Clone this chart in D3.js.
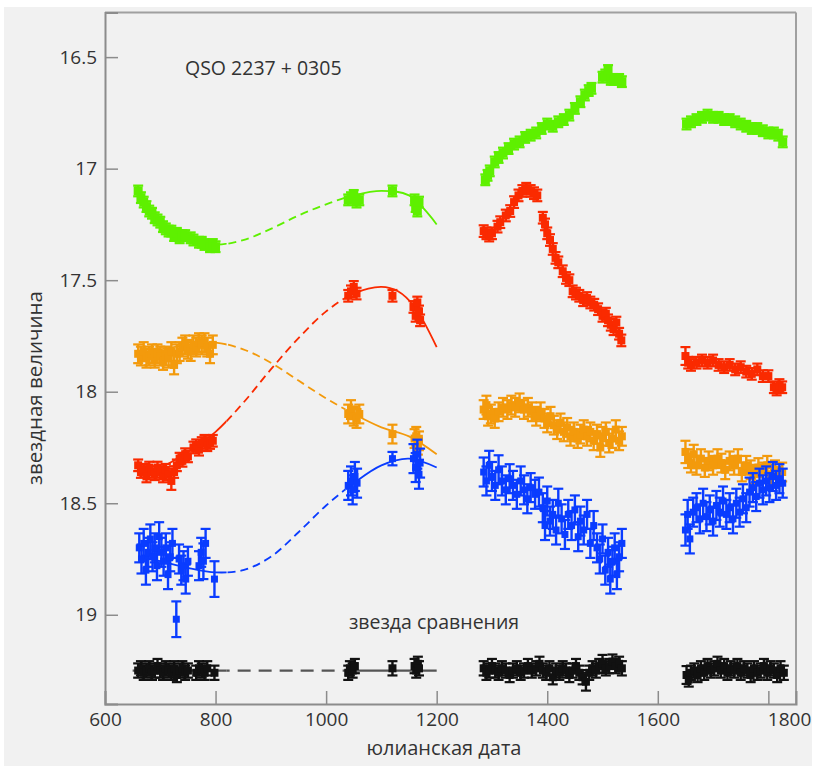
<!DOCTYPE html>
<html lang="ru">
<head>
<meta charset="utf-8">
<script src="https://d3js.org/d3.v7.min.js"></script>
<style>
  body { margin: 0; background: #ffffff; }
  text { font-family: "Open Sans", "Noto Sans", sans-serif; fill: #333; }
</style>
</head>
<body>
<div id="chart"></div>
<script>
// observations: [julian day, magnitude, error (optional)]
var greenPts = [
  [660,17.10],[665,17.13],[670,17.15],[675,17.17],[680,17.19],[685,17.20],[690,17.22],[695,17.23],
  [700,17.24],[705,17.26],[710,17.27],[715,17.28],[720,17.28],[725,17.30],[730,17.29],[735,17.31],
  [740,17.30],[745,17.30],[755,17.31],[760,17.32],[770,17.33],[775,17.33],[780,17.34],[790,17.35],[795,17.34],[800,17.35],
  [1040,17.14],[1045,17.13],[1050,17.12],[1055,17.15],[1060,17.14],[1120,17.10],
  [1160,17.14],[1162,17.17],[1165,17.19],[1168,17.15],
  [1288,17.05],[1292,17.03],[1296,17.01],[1305,16.97],[1312,16.95],[1320,16.93],[1330,16.91],[1340,16.89],
  [1350,16.88],[1360,16.86],[1370,16.85],[1380,16.84],[1390,16.82],[1400,16.80],[1410,16.81],[1420,16.79],
  [1430,16.78],[1440,16.76],[1450,16.73],[1460,16.70],[1468,16.67],[1475,16.65],[1480,16.64],
  [1500,16.59],[1505,16.58],[1510,16.56],[1515,16.60],[1520,16.60],[1530,16.60],[1535,16.61],
  [1652,16.80],[1660,16.79],[1670,16.78],[1680,16.77],[1690,16.76],[1700,16.77],[1710,16.77],[1720,16.78],
  [1730,16.78],[1740,16.79],[1750,16.80],[1760,16.81],[1770,16.82],[1780,16.82],[1790,16.83],[1800,16.84],
  [1810,16.84],[1818,16.85],[1826,16.88]
];
var redPts = [
  [660,18.33],[665,18.36],[670,18.35],[675,18.38],[680,18.34],[685,18.36],[690,18.37],[695,18.34],
  [700,18.36],[705,18.38],[710,18.35],[715,18.37],[720,18.40,0.04],[725,18.36],[730,18.33],[735,18.30],
  [740,18.31],[745,18.28],[750,18.29],[760,18.25],[765,18.24],[770,18.26],[775,18.23],[780,18.22],
  [785,18.24],[790,18.23],[795,18.22],
  [1040,17.57],[1045,17.55],[1050,17.53],[1055,17.56],[1120,17.57],
  [1158,17.62],[1162,17.66],[1165,17.60],[1168,17.64],[1170,17.68],
  [1285,17.28],[1290,17.29],[1295,17.30],[1300,17.29],[1310,17.26],[1315,17.24],[1325,17.21],[1333,17.19],
  [1340,17.15],[1348,17.12],[1355,17.10],[1362,17.09],[1370,17.10],[1376,17.11],[1382,17.12],
  [1392,17.22],[1396,17.25],[1400,17.29],[1405,17.32],[1410,17.36],[1415,17.40],[1420,17.42],[1428,17.46],
  [1434,17.49],[1440,17.50],[1446,17.55],[1452,17.56],[1458,17.57],[1465,17.59],[1472,17.58],[1478,17.60],
  [1485,17.61],[1492,17.63],[1500,17.66],[1506,17.65],[1510,17.68],[1515,17.70],[1520,17.72],[1525,17.69],
  [1530,17.74],[1534,17.77],
  [1650,17.84,0.04],[1655,17.87],[1660,17.88],[1670,17.87],[1680,17.86],[1690,17.87],[1700,17.86],[1710,17.88],
  [1720,17.89],[1730,17.88],[1740,17.90],[1750,17.89],[1760,17.91],[1770,17.92],[1780,17.90],[1790,17.93],
  [1800,17.93],[1810,17.98],[1815,17.99],[1820,17.97],[1825,17.98]
];
var orangePts = [
  [660,17.83],[665,17.84],[670,17.82],[675,17.85],[680,17.84],[685,17.83],[690,17.85],[695,17.83],
  [700,17.84],[705,17.86],[710,17.84],[715,17.85],[720,17.82],[725,17.88],[730,17.83],[735,17.82],
  [740,17.80],[745,17.79],[750,17.81],[755,17.82],[760,17.79],[765,17.80],[770,17.78],[775,17.79],
  [780,17.78],[785,17.80],[790,17.83],[795,17.79],
  [1040,18.10],[1045,18.08],[1050,18.11],[1055,18.12],[1060,18.10],[1120,18.19],
  [1160,18.21],[1163,18.20],[1166,18.24],[1168,18.22],
  [1285,18.08],[1290,18.06],[1293,18.11],[1298,18.10],[1305,18.12],[1312,18.09],[1320,18.07],[1328,18.08],
  [1335,18.06],[1342,18.07],[1350,18.05],[1358,18.08],[1365,18.07],[1372,18.09],[1380,18.11],[1388,18.09],
  [1395,18.12],[1400,18.14],[1406,18.11],[1412,18.15],[1418,18.17],[1424,18.14],[1430,18.18],[1436,18.16],
  [1442,18.20],[1448,18.18],[1455,18.21],[1460,18.19],[1466,18.17],[1472,18.20],[1478,18.18],[1484,18.22],
  [1490,18.19],[1496,18.25],[1500,18.20],[1506,18.18],[1512,18.23],[1518,18.21],[1524,18.17],[1530,18.22],
  [1535,18.20],
  [1650,18.27,0.05],[1655,18.30],[1660,18.32],[1665,18.28],[1670,18.33],[1678,18.30],[1685,18.34],[1692,18.31],
  [1700,18.33],[1708,18.30],[1715,18.32],[1722,18.35],[1730,18.31],[1738,18.33],[1745,18.30],[1752,18.36],
  [1760,18.33],[1768,18.35],[1775,18.37],[1782,18.34],[1790,18.36],[1798,18.33],[1805,18.37],[1812,18.35],
  [1818,18.38],[1825,18.36]
];
var bluePts = [
  [662,18.70],[666,18.75],[670,18.68],[674,18.80],[678,18.72],[682,18.66],[686,18.74],[690,18.70],
  [694,18.78],[698,18.65],[702,18.72],[706,18.76],[710,18.70],[714,18.82],[718,18.74],[722,18.68],
  [729,19.02,0.08],[734,18.75],[738,18.80],[742,18.78],[746,18.84],[750,18.76],
  [770,18.78],[774,18.72],[778,18.76,0.08],[782,18.68],[798,18.84,0.08],
  [1040,18.42],[1045,18.40],[1048,18.44],[1052,18.38],[1056,18.41],[1120,18.30,0.03],
  [1158,18.30],[1162,18.34],[1165,18.28],[1168,18.37],[1170,18.32],
  [1285,18.36],[1290,18.40],[1295,18.33],[1300,18.38],[1306,18.42],[1312,18.35],[1318,18.40],[1325,18.44],
  [1332,18.39],[1338,18.42],[1345,18.46],[1352,18.40],[1358,18.44],[1364,18.48],[1370,18.43],[1378,18.46],
  [1385,18.45],[1392,18.52],[1396,18.60],[1400,18.49],[1405,18.58],[1410,18.55],[1416,18.62],[1420,18.50],
  [1426,18.57],[1432,18.64],[1438,18.55],[1444,18.60],[1450,18.53],[1456,18.65],[1460,18.58],[1466,18.62],
  [1472,18.55],[1478,18.68],[1484,18.60],[1490,18.70],[1495,18.75],[1500,18.66],[1505,18.80],[1510,18.72],
  [1514,18.84],[1518,18.76],[1522,18.70],[1526,18.82],[1530,18.74],[1535,18.68],
  [1650,18.62,0.07],[1654,18.55],[1658,18.66],[1664,18.54],[1670,18.52],[1676,18.57],[1682,18.50],[1688,18.56],
  [1694,18.53],[1700,18.58],[1706,18.51],[1712,18.54],[1718,18.49],[1724,18.55],[1730,18.52],[1736,18.57],
  [1742,18.50],[1748,18.54],[1754,18.48],[1760,18.52],[1766,18.45],[1772,18.43],[1778,18.47],[1784,18.41],
  [1790,18.44],[1796,18.40],[1802,18.43],[1808,18.38],[1814,18.42],[1820,18.39],[1826,18.41]
];
var blackPts = [
  [660,19.25],[665,19.24],[670,19.26],[675,19.25],[680,19.24],[685,19.26],[690,19.25],[695,19.23],
  [700,19.25],[705,19.26],[710,19.24],[715,19.25],[720,19.26],[725,19.24],[730,19.27],[735,19.25],
  [740,19.24],[745,19.26],[750,19.25],[765,19.26],[770,19.24],[775,19.25],[780,19.26],[785,19.24],[798,19.26],
  [1040,19.26],[1043,19.24],[1048,19.25],[1052,19.23],[1120,19.24],
  [1160,19.23],[1163,19.25],[1166,19.22],[1168,19.24],
  [1285,19.24],[1290,19.26],[1295,19.25],[1300,19.23],[1306,19.25],[1312,19.26],[1318,19.24],[1325,19.25],
  [1332,19.27],[1338,19.25],[1345,19.24],[1352,19.26],[1358,19.25],[1365,19.23],[1372,19.25],[1380,19.24],
  [1386,19.22],[1392,19.25],[1398,19.26],[1404,19.24],[1410,19.28],[1416,19.25],[1422,19.26],[1428,19.24],
  [1434,19.25],[1440,19.27],[1446,19.25],[1452,19.23],[1458,19.26],[1464,19.28],[1470,19.30,0.04],[1476,19.26],
  [1482,19.24],[1488,19.25],[1494,19.23],[1500,19.22,0.04],[1506,19.24],[1512,19.23],[1518,19.21],[1524,19.23],
  [1530,19.22],[1535,19.24],
  [1652,19.27,0.04],[1656,19.29],[1660,19.26],[1666,19.25],[1672,19.27],[1678,19.24],[1684,19.26],[1690,19.23],
  [1696,19.25],[1702,19.24],[1708,19.22],[1714,19.25],[1720,19.23],[1726,19.26],[1732,19.24],[1738,19.25],
  [1744,19.23],[1750,19.26],[1756,19.24],[1762,19.25],[1768,19.27],[1774,19.24],[1780,19.26],[1786,19.25],
  [1792,19.23],[1798,19.26],[1804,19.24],[1810,19.25],[1816,19.27],[1822,19.24],[1828,19.26]
];

// fitted curves
var greenFit  = [[655,17.08],[700,17.24],[750,17.31],[800,17.34],[850,17.32],[900,17.27],[950,17.21],[1000,17.16],[1050,17.12],[1100,17.10],[1150,17.12],[1200,17.25]];
var redFit    = [[660,18.37],[700,18.34],[750,18.27],[800,18.18],[850,18.05],[900,17.90],[950,17.76],[1000,17.64],[1050,17.56],[1100,17.53],[1130,17.55],[1160,17.62],[1200,17.80]];
var orangeFit = [[660,17.83],[700,17.81],[750,17.79],[800,17.78],[850,17.81],[900,17.87],[950,17.95],[1000,18.03],[1050,18.10],[1100,18.16],[1150,18.20],[1200,18.28]];
var blueFit   = [[660,18.74],[700,18.76],[750,18.79],[800,18.81],[850,18.80],[900,18.74],[950,18.63],[1000,18.51],[1050,18.41],[1100,18.33],[1150,18.30],[1200,18.34]];
var blackFit  = [[650,19.25],[1200,19.25]];

var xTicks = [600, 800, 1000, 1200, 1400, 1600, 1800];
var yTicks = [16.5, 17, 17.5, 18, 18.5, 19];
var yTickLabels = ["16.5", "17", "17.5", "18", "18.5", "19"];

var width = 816;
var height = 769;

var svg = d3.select("#chart").append("svg")
    .attr("width", width)
    .attr("height", height);

var xScale = d3.scaleLinear().domain([600, 1850]).range([105, 796]);
var yScale = d3.scaleLinear().domain([16.3, 19.4]).range([12.5, 704]);

// background
svg.append("rect")
    .attr("x", 4).attr("y", 7)
    .attr("width", 808).attr("height", 759)
    .attr("fill", "#f1f1f1");

// clip regions: solid near the data, dashed in the gap
var defs = svg.append("defs");
var solidClip = defs.append("clipPath").attr("id", "solid-clip");
solidClip.append("rect")
    .attr("x", xScale(640)).attr("y", 0)
    .attr("width", xScale(820) - xScale(640)).attr("height", height);
solidClip.append("rect")
    .attr("x", xScale(1035)).attr("y", 0)
    .attr("width", xScale(1210) - xScale(1035)).attr("height", height);
defs.append("clipPath").attr("id", "dash-clip")
    .append("rect")
    .attr("x", xScale(820)).attr("y", 0)
    .attr("width", xScale(1035) - xScale(820)).attr("height", height);

var fitLine = d3.line()
    .x(function(d) { return xScale(d[0]); })
    .y(function(d) { return yScale(d[1]); })
    .curve(d3.curveCatmullRom);

function drawFit(data, color, w, dash) {
    svg.append("path")
        .datum(data)
        .attr("d", fitLine)
        .attr("fill", "none")
        .attr("stroke", color)
        .attr("stroke-width", w)
        .attr("clip-path", "url(#solid-clip)");
    svg.append("path")
        .datum(data)
        .attr("d", fitLine)
        .attr("fill", "none")
        .attr("stroke", color)
        .attr("stroke-width", w)
        .attr("stroke-dasharray", dash)
        .attr("clip-path", "url(#dash-clip)");
}

function drawPoints(data, color, err, size) {
    var g = svg.append("g");
    var e = function(d) { return d.length > 2 ? d[2] : err; };
    g.selectAll(".bar").data(data).enter()
        .append("line")
        .attr("x1", function(d) { return xScale(d[0]); })
        .attr("x2", function(d) { return xScale(d[0]); })
        .attr("y1", function(d) { return yScale(d[1] - e(d)); })
        .attr("y2", function(d) { return yScale(d[1] + e(d)); })
        .attr("stroke", color)
        .attr("stroke-width", 2.4);
    [-1, 1].forEach(function(s) {
        g.selectAll(".cap" + s).data(data).enter()
            .append("line")
            .attr("x1", function(d) { return xScale(d[0]) - 5; })
            .attr("x2", function(d) { return xScale(d[0]) + 5; })
            .attr("y1", function(d) { return yScale(d[1] + s * e(d)); })
            .attr("y2", function(d) { return yScale(d[1] + s * e(d)); })
            .attr("stroke", color)
            .attr("stroke-width", 2.2);
    });
    g.selectAll("rect").data(data).enter()
        .append("rect")
        .attr("x", function(d) { return xScale(d[0]) - size / 2; })
        .attr("y", function(d) { return yScale(d[1]) - size / 2; })
        .attr("width", size)
        .attr("height", size)
        .attr("fill", color);
}

var cGreen = "#5ef000", cRed = "#fa2a00", cOrange = "#f39a0c", cBlue = "#0a3cff", cBlack = "#111111";

drawFit(greenFit, cGreen, 1.8, "8,5");
drawFit(redFit, cRed, 1.8, "8,5");
drawFit(orangeFit, cOrange, 1.8, "8,5");
drawFit(blueFit, cBlue, 1.8, "8,5");
drawFit(blackFit, "#555555", 2.2, "13,8");

drawPoints(greenPts, cGreen, 0.024, 9);
drawPoints(redPts, cRed, 0.026, 8);
drawPoints(orangePts, cOrange, 0.042, 8);
drawPoints(bluePts, cBlue, 0.065, 7);
drawPoints(blackPts, cBlack, 0.032, 8);

// frame
var axisColor = "#8c8c8c";
svg.append("line").attr("x1", 105).attr("x2", 796).attr("y1", 12.5).attr("y2", 12.5)
    .attr("stroke", "#a0a0a0").attr("stroke-width", 2);
svg.append("line").attr("x1", 796).attr("x2", 796).attr("y1", 12.5).attr("y2", 704)
    .attr("stroke", "#a0a0a0").attr("stroke-width", 2);

// axes with inward ticks
var xMinor = d3.range(650, 1850, 50).filter(function(v) { return v % 200 !== 0; });
var yMinor = d3.range(16.4, 19.35, 0.1).filter(function(v) { return Math.abs(v * 2 - Math.round(v * 2)) > 0.01; });

var xAxisMajor = d3.axisBottom(xScale).tickValues(xTicks).tickSize(-13).tickPadding(8)
    .tickFormat(d3.format("d"));
var xAxisMinor = d3.axisBottom(xScale).tickValues(xMinor).tickSize(-5).tickFormat("");
var yAxisMajor = d3.axisLeft(yScale).tickValues(yTicks).tickSize(-13).tickPadding(8)
    .tickFormat(function(d, i) { return yTickLabels[i]; });
var yAxisMinor = d3.axisLeft(yScale).tickValues(yMinor).tickSize(-5).tickFormat("");

var gx = svg.append("g").attr("transform", "translate(0,704)");
gx.call(xAxisMinor);
gx.call(xAxisMajor);
var gy = svg.append("g").attr("transform", "translate(105,0)");
gy.call(yAxisMinor);
gy.call(yAxisMajor);

svg.selectAll(".domain").attr("stroke", axisColor).attr("stroke-width", 2);
svg.selectAll(".tick line").attr("stroke", axisColor).attr("stroke-width", 1.5);
svg.selectAll(".tick text")
    .attr("font-family", "Open Sans, sans-serif")
    .attr("font-size", 19)
    .attr("fill", "#333");
gx.selectAll(".tick text").attr("dy", "0.72em");
// last label sits to the right of its tick
gx.selectAll(".tick text").filter(function(d) { return d === 1800; })
    .attr("text-anchor", "start").attr("dx", -1);

// titles
svg.append("text")
    .attr("x", 185).attr("y", 75)
    .attr("font-size", 19.5)
    .text("QSO 2237 + 0305");

svg.append("text")
    .attr("x", 434).attr("y", 629)
    .attr("text-anchor", "middle")
    .attr("font-size", 19.5)
    .text("звезда сравнения");

svg.append("text")
    .attr("x", 444).attr("y", 755)
    .attr("text-anchor", "middle")
    .attr("font-size", 20)
    .text("юлианская дата");

svg.append("text")
    .attr("transform", "translate(42,388) rotate(-90)")
    .attr("text-anchor", "middle")
    .attr("font-size", 20.5)
    .text("звездная величина");
</script>
</body>
</html>
